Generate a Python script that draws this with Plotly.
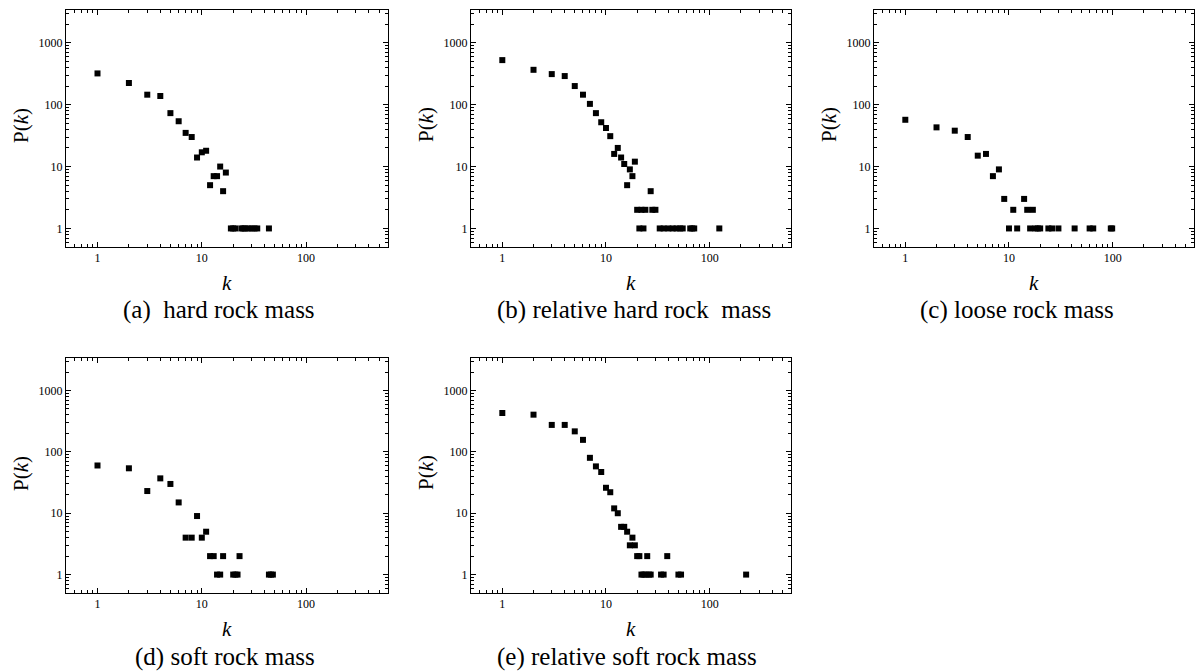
import plotly.graph_objects as go

# Degree distributions P(k) for five rock-mass classes
k_a = [1, 2, 3, 4, 5, 6, 7, 8, 9, 10, 11, 12, 13, 14, 15, 16, 17,
       19, 20, 21, 24, 25, 26, 28, 30, 32, 34, 44]
p_a = [320, 224, 145, 138, 73, 54, 35, 30, 14, 17, 18, 5, 7, 7, 10, 4, 8,
       1, 1, 1, 1, 1, 1, 1, 1, 1, 1, 1]

k_b = [1, 2, 3, 4, 5, 6, 7, 8, 9, 10, 11, 12, 13, 14, 15, 16, 17, 18, 19,
       20, 22, 24, 27, 28, 30,
       21, 23, 33, 36, 40, 44, 48, 52, 55, 65, 68, 71, 124]
p_b = [525, 366, 312, 290, 200, 145, 103, 73, 52, 42, 31, 16, 20, 14, 11, 5, 9, 7, 12,
       2, 2, 2, 4, 2, 2,
       1, 1, 1, 1, 1, 1, 1, 1, 1, 1, 1, 1, 1]

k_c = [1, 2, 3, 4, 5, 6, 7, 8, 9, 10, 11, 12, 14, 15, 16, 17, 18, 19, 20,
       24, 26, 30, 43, 60, 65, 96, 99]
p_c = [57, 43, 38, 30, 15, 16, 7, 9, 3, 1, 2, 1, 3, 2, 1, 2, 1, 1, 1,
       1, 1, 1, 1, 1, 1, 1, 1]

k_d = [1, 2, 3, 4, 5, 6, 7, 8, 9, 10, 11, 12, 13, 14, 15, 16,
       20, 21, 22, 23, 44, 46, 48]
p_d = [60, 54, 23, 37, 30, 15, 4, 4, 9, 4, 5, 2, 2, 1, 1, 2,
       1, 1, 1, 2, 1, 1, 1]

k_e = [1, 2, 3, 4, 5, 6, 7, 8, 9, 10, 11, 12, 13, 14, 15, 16, 17, 18, 19,
       20, 21, 25, 39, 22, 23, 24, 26, 27, 34, 36, 50, 53, 225]
p_e = [430, 404, 275, 275, 216, 157, 80, 58, 47, 26, 22, 12, 10, 6, 6, 5, 3, 4, 3,
       2, 2, 2, 2, 1, 1, 1, 1, 1, 1, 1, 1, 1, 1]

captions = ["(a)\u00a0 hard rock mass",
            "(b) relative hard rock\u00a0 mass",
            "(c) loose rock mass",
            "(d) soft rock mass",
            "(e) relative soft rock mass"]

x_tickvals = [1, 10, 100]
x_ticktext = ["1", "10", "100"]
y_tickvals = [1, 10, 100, 1000]
y_ticktext = ["1", "10", "100", "1000"]

# minor ticks at 2..9 within each decade
x_minor = [m * 10 ** e for e in (-1, 0, 1, 2) for m in range(2, 10)
           if 0.5 <= m * 10 ** e <= 600 and m * 10 ** e not in x_tickvals]
y_minor = [m * 10 ** e for e in (-1, 0, 1, 2, 3) for m in range(2, 10)
           if 0.5 <= m * 10 ** e <= 3300 and m * 10 ** e not in y_tickvals]

series = [(k_a, p_a), (k_b, p_b), (k_c, p_c), (k_d, p_d), (k_e, p_e)]

W, H = 1199, 671
# panel boxes in pixels: (left, right, top, bottom)
boxes = [(66, 388, 10, 247), (471, 791, 10, 247), (874, 1194, 10, 247),
         (66, 388, 358, 593), (471, 791, 358, 593)]
caption_pos = [(219, 310), (634, 310), (1017, 310), (225, 657), (627, 657)]

SERIF = "Liberation Serif"

fig = go.Figure()
layout = dict(width=W, height=H, margin=dict(l=0, r=0, t=0, b=0),
              paper_bgcolor="white", plot_bgcolor="white", showlegend=False)
annotations = []

for i, ((kx, py), (l, r, t, b)) in enumerate(zip(series, boxes)):
    n = "" if i == 0 else str(i + 1)
    fig.add_trace(go.Scatter(
        x=kx, y=py, mode="markers", xaxis="x" + n, yaxis="y" + n,
        marker=dict(symbol="square", size=6, color="black", line=dict(width=0)),
        hoverinfo="x+y"))
    common = dict(type="log", showline=True, linecolor="black", linewidth=1,
                  mirror="ticks", ticks="inside", ticklen=5, tickwidth=1,
                  tickcolor="black", showgrid=False, zeroline=False,
                  tickfont=dict(family=SERIF, size=12, color="black"))
    minor_style = dict(ticks="inside", ticklen=3, tickwidth=1,
                       tickcolor="black", showgrid=False, tickmode="array")
    layout["xaxis" + n] = dict(common, domain=[l / W, r / W],
                               anchor="y" + n, range=[-0.302, 2.785],
                               tickvals=x_tickvals, ticktext=x_ticktext,
                               minor=dict(minor_style, tickvals=x_minor))
    layout["yaxis" + n] = dict(common, domain=[1 - b / H, 1 - t / H],
                               anchor="x" + n, range=[-0.30, 3.53],
                               tickvals=y_tickvals, ticktext=y_ticktext,
                               minor=dict(minor_style, tickvals=y_minor))
    # axis titles
    cx = (l + r) / 2
    annotations.append(dict(text="<i>k</i>", x=cx / W, y=1 - (b + 36) / H,
                            xref="paper", yref="paper", showarrow=False,
                            font=dict(family=SERIF, size=21, color="black"),
                            xanchor="center", yanchor="middle"))
    annotations.append(dict(text="P(<i>k</i>)", x=(l - 45) / W,
                            y=1 - (t + 115) / H,
                            xref="paper", yref="paper", showarrow=False,
                            textangle=-90,
                            font=dict(family=SERIF, size=21, color="black"),
                            xanchor="center", yanchor="middle"))
    cxp, cyp = caption_pos[i]
    annotations.append(dict(text=captions[i], x=cxp / W, y=1 - cyp / H,
                            xref="paper", yref="paper", showarrow=False,
                            font=dict(family=SERIF, size=25, color="black"),
                            xanchor="center", yanchor="middle"))

layout["annotations"] = annotations
fig.update_layout(**layout)
fig.write_html("out.html")
